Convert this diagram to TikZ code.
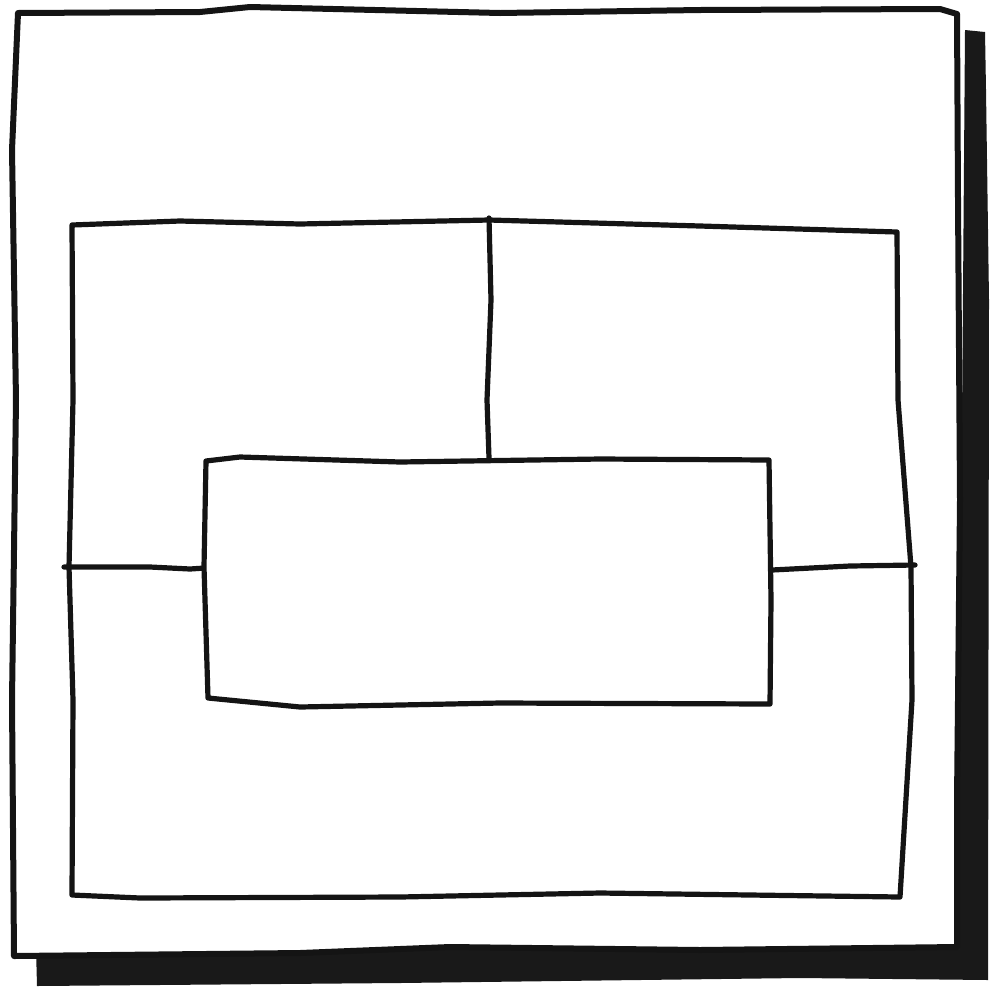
\documentclass[tikz,border=0pt]{standalone}
\begin{document}
\begin{tikzpicture}[x=1pt,y=-1pt,
  ink/.style={draw=black!92,line width=6pt,line join=round,line cap=round},
  thin ink/.style={draw=black!92,line width=5.2pt,line join=round,line cap=round},
  shade/.style={fill=black!90}]
\useasboundingbox (0,0) rectangle (990,986);
% shadow
\fill[shade] (36,948) -- (37,986) -- (400,983) -- (800,978) -- (988,980)
  -- (989,300) -- (986,90) -- (985,32) -- (965,30) -- (958,948) -- cycle;
% outer square
\path[ink,fill=white] (18,13) -- (200,12) -- (250,7) -- (500,13) -- (700,10) -- (940,9)
  -- (957,14) -- (958,200) -- (960,500) -- (957,800) -- (957,947)
  -- (700,950) -- (450,947) -- (300,953) -- (14,956) -- (12,700) -- (16,400) -- (12,150) -- cycle;
% inner rectangle
\draw[thin ink] (72,225) -- (180,221) -- (300,224) -- (489,220) -- (700,226) -- (897,232)
  -- (898,400) -- (911,567) -- (912,700) -- (900,897)
  -- (600,893) -- (400,897) -- (140,898) -- (72,895)
  -- (73,700) -- (69,567) -- (73,400) -- cycle;
% vertical divider
\draw[thin ink] (489,218) -- (491,300) -- (487,400) -- (489,458);
% horizontal dividers
\draw[thin ink] (64,567) -- (150,567) -- (190,569) -- (205,568);
\draw[thin ink] (772,570) -- (850,566) -- (915,565);
% central rectangle
\draw[thin ink,fill=white] (206,461) -- (240,457) -- (400,462) -- (600,459) -- (769,460)
  -- (771,600) -- (770,704) -- (500,703) -- (300,707) -- (208,698)
  -- (204,567) -- cycle;
\end{tikzpicture}
\end{document}
